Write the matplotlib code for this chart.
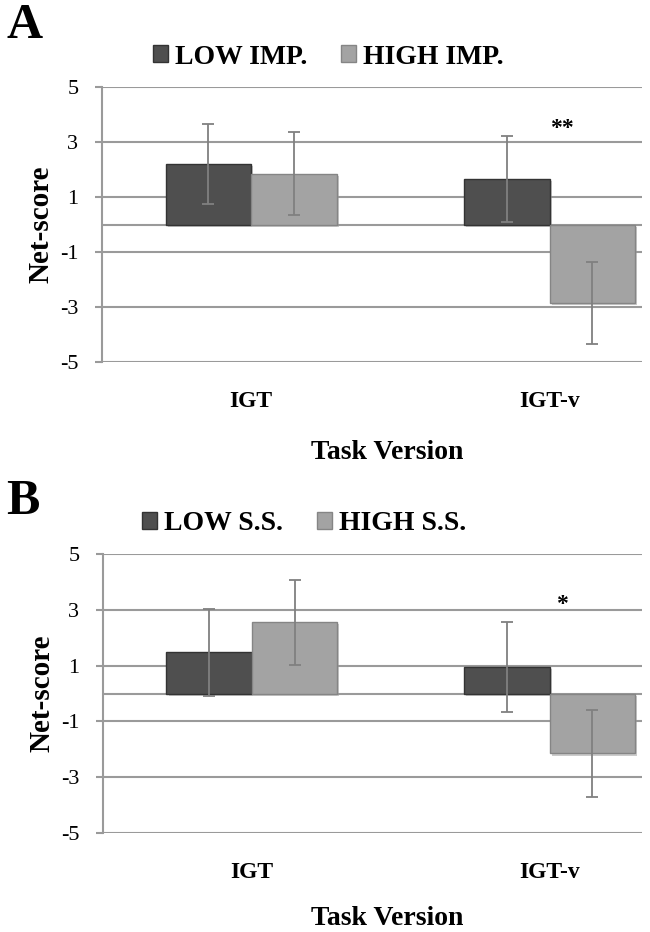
import numpy as np
import matplotlib
matplotlib.use("Agg")
import matplotlib.pyplot as plt
import matplotlib.patheffects as pe
from matplotlib.patches import Patch

plt.rcParams['font.family'] = ['Liberation Serif', 'DejaVu Serif']
plt.rcParams['axes.unicode_minus'] = False

# Data
versions = ["IGT", "IGT-v"]

imp_labels = ["LOW IMP.", "HIGH IMP."]
imp_low = [2.2, 1.65]
imp_high = [1.85, -2.85]
imp_low_err = [1.47, 1.57]
imp_high_err = [1.5, 1.5]

ss_labels = ["LOW S.S.", "HIGH S.S."]
ss_low = [1.47, 0.95]
ss_high = [2.55, -2.15]
ss_low_err = [1.55, 1.62]
ss_high_err = [1.52, 1.57]

stars = ["**", "*"]
star_y = [3.5, 3.2]
yticks = [-5, -3, -1, 1, 3, 5]

dark = '#4f4f4f'
light = '#a3a3a3'
grid_c = '#9a9a9a'

fig = plt.figure(figsize=(6.5, 9.32), dpi=100)
W, H = 650, 932
shadow = [pe.withSimplePatchShadow(offset=(1.5, -1.5), shadow_rgbFace='#999999', alpha=0.5)]


def panel(rect_px, letter, letter_y, leg_xy, xlab_top, labels, low, high, low_err, high_err,
          star, sy):
    x0, y0, x1, y1 = rect_px
    ax = fig.add_axes([x0 / W, 1 - y1 / H, (x1 - x0) / W, (y1 - y0) / H])
    x = np.arange(len(versions))
    w = 0.287
    b1 = ax.bar(x - w / 2, low, w, color=dark, edgecolor='#333333', linewidth=1, zorder=3)
    b2 = ax.bar(x + w / 2, high, w, color=light, edgecolor='#858585', linewidth=1, zorder=3)
    for p in list(b1) + list(b2):
        p.set_path_effects(shadow)
    ax.errorbar(x - w / 2, low, yerr=low_err, fmt='none', ecolor='#808080',
                elinewidth=1.3, capsize=4, capthick=1.3, zorder=4)
    ax.errorbar(x + w / 2, high, yerr=high_err, fmt='none', ecolor='#808080',
                elinewidth=1.3, capsize=4, capthick=1.3, zorder=4)
    ax.axhline(0, color=grid_c, lw=1.5, zorder=2)
    ax.set_xlim(-0.5, 1.31)
    ax.set_ylim(-5, 5)
    ax.set_yticks(yticks)
    ax.yaxis.grid(True, color=grid_c, lw=1.5, zorder=0)
    ax.set_axisbelow(True)
    for s in ['top', 'right', 'bottom']:
        ax.spines[s].set_visible(False)
    ax.spines['left'].set_color(grid_c)
    ax.spines['left'].set_linewidth(1.5)
    ax.tick_params(axis='y', length=5, width=1.5, color=grid_c, labelsize=16, pad=12)
    ax.set_xticks(x)
    ax.set_xticklabels(versions, fontsize=17, fontweight='bold')
    ax.tick_params(axis='x', length=0, pad=21)
    ax.set_xlabel("Task Version", fontsize=20, fontweight='bold')
    ax.xaxis.set_label_coords((387 - x0) / (x1 - x0), -(xlab_top - y1) / (y1 - y0))
    ax.set_ylabel("Net-score", fontsize=21, fontweight='bold', labelpad=4)
    ax.text(1.04, sy, star, ha='center', va='center', fontsize=17, fontweight='bold')
    handles = [Patch(facecolor=dark, edgecolor='#333333'),
               Patch(facecolor=light, edgecolor='#858585')]
    ax.legend(handles, labels, loc='center left',
              bbox_to_anchor=(leg_xy[0] / W, 1 - leg_xy[1] / H),
              bbox_transform=fig.transFigure, ncol=2, frameon=False,
              prop={'size': 20, 'weight': 'bold'}, handlelength=0.55, handleheight=0.55,
              handletextpad=0.25, columnspacing=1.2, borderpad=0, borderaxespad=0)
    fig.text(6 / W, 1 - letter_y / H, letter, fontsize=36, fontweight='bold', va='center')
    return ax


panel((102, 87, 642, 362), "A", 26, (153, 57), 440, imp_labels, imp_low, imp_high,
      imp_low_err, imp_high_err, stars[0], star_y[0])
panel((103, 554, 642, 833), "B", 502, (142, 524), 906, ss_labels, ss_low, ss_high,
      ss_low_err, ss_high_err, stars[1], star_y[1])

fig.savefig("out.png", dpi=100)
